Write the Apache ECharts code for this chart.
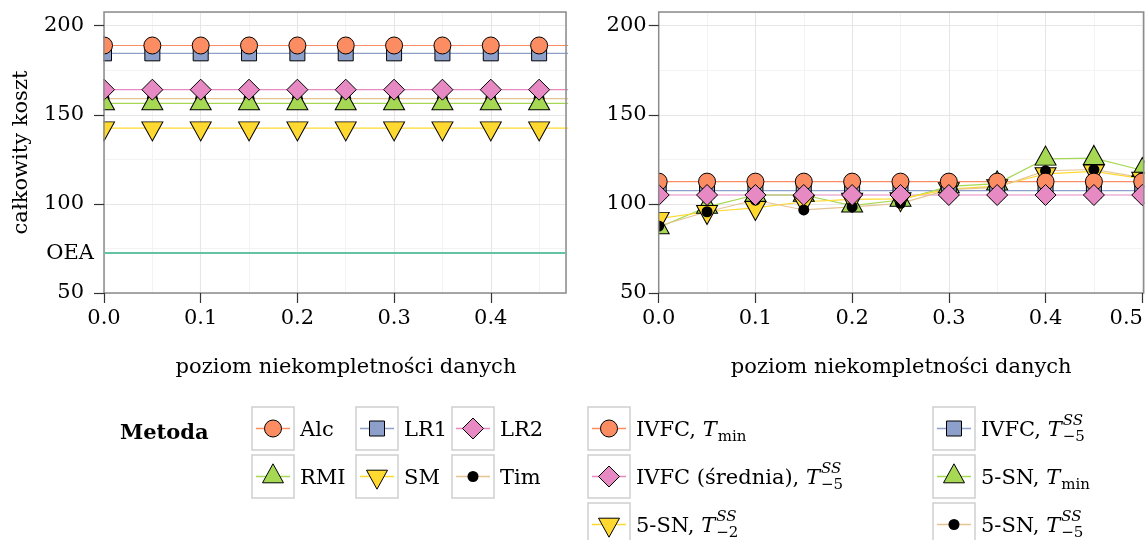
<!DOCTYPE html>
<html>
<head>
<meta charset="utf-8">
<script src="https://cdn.jsdelivr.net/npm/echarts@6/dist/echarts.min.js"></script>
<style>
  html, body { margin: 0; padding: 0; background: #ffffff; }
  #chart { width: 1145px; height: 540px; }
</style>
</head>
<body>
<div id="chart"></div>
<script>
// ---- data -------------------------------------------------------------
const levels = [0, 0.05, 0.1, 0.15, 0.2, 0.25, 0.3, 0.35, 0.4, 0.45, 0.5];

// left panel: reference methods
const costAlc = [188.9, 188.9, 188.9, 188.9, 188.9, 188.9, 188.9, 188.9, 188.9, 188.9, 188.9];
const costLR1 = [184.5, 184.5, 184.5, 184.5, 184.5, 184.5, 184.5, 184.5, 184.5, 184.5, 184.5];
const costLR2 = [164.1, 164.1, 164.1, 164.1, 164.1, 164.1, 164.1, 164.1, 164.1, 164.1, 164.1];
const costRMI = [156.4, 156.4, 156.4, 156.4, 156.4, 156.4, 156.4, 156.4, 156.4, 156.4, 156.4];
const costSM  = [142.5, 142.5, 142.5, 142.5, 142.5, 142.5, 142.5, 142.5, 142.5, 142.5, 142.5];
const costTim = [159.1, 159.1, 159.1, 159.1, 159.1, 159.1, 159.1, 159.1, 159.1, 159.1, 159.1];
const costOEA = 72.4;

// right panel: IVFC and 5-SN variants
const costIvfcMin    = [112.5, 112.5, 112.5, 112.5, 112.5, 112.5, 112.5, 112.5, 112.5, 112.5, 112.5];
const costIvfcSS5    = [107.5, 107.5, 107.5, 107.5, 107.5, 107.5, 107.5, 107.5, 107.5, 107.5, 107.5];
const costIvfcMean   = [105.0, 105.0, 105.0, 105.0, 105.0, 105.0, 105.0, 105.0, 105.0, 105.0, 105.0];
const cost5snMin     = [86.8, 98.3, 105.0, 105.0, 99.0, 102.2, 109.8, 111.4, 125.3, 125.7, 118.9];
const cost5snSS2     = [91.7, 95.6, 97.8, 101.2, 102.5, 102.8, 108.3, 110.0, 116.8, 118.3, 114.2];
const cost5snSS5     = [87.6, 95.6, 102.2, 96.6, 98.3, 100.3, 108.0, 109.3, 118.6, 119.3, 114.8];

// tick labels
const xTicksLeft  = [0, 0.1, 0.2, 0.3, 0.4];
const xTicksRight = [0, 0.1, 0.2, 0.3, 0.4, 0.5];
const yTicks      = [50, 100, 150, 200];

// ---- styling ----------------------------------------------------------
const FONT = '"DejaVu Serif", serif';
const FS = 21;
const COL = {
  orange: '#FC8D62', blue: '#8DA0CB', pink: '#E78AC3',
  green: '#A6D854', yellow: '#FFD92F', tan: '#E5C494', teal: '#66C2A5'
};
// marker looks (ggplot shapes 21-25 and 16)
const MARK = {
  circle:  { symbol: 'circle',   size: 17,       offset: [0, 0],    rotate: 0,   border: true },
  square:  { symbol: 'rect',     size: 15,       offset: [0, 0],    rotate: 0,   border: true },
  diamond: { symbol: 'diamond',  size: 21,       offset: [0, 0],    rotate: 0,   border: true },
  triUp:   { symbol: 'triangle', size: [21, 19], offset: [0, -3.2], rotate: 0,   border: true },
  triDown: { symbol: 'triangle', size: [21, 19], offset: [0, 3.2],  rotate: 180, border: true },
  dot:     { symbol: 'circle',   size: 11,       offset: [0, 0],    rotate: 0,   border: false }
};

const leftMethods = [
  { key: 'Alc', data: costAlc, line: COL.orange, fill: COL.orange, mark: 'circle',  label: [{ t: 'Alc' }] },
  { key: 'LR1', data: costLR1, line: COL.blue,   fill: COL.blue,   mark: 'square',  label: [{ t: 'LR1' }] },
  { key: 'LR2', data: costLR2, line: COL.pink,   fill: COL.pink,   mark: 'diamond', label: [{ t: 'LR2' }] },
  { key: 'RMI', data: costRMI, line: COL.green,  fill: COL.green,  mark: 'triUp',   label: [{ t: 'RMI' }] },
  { key: 'SM',  data: costSM,  line: COL.yellow, fill: COL.yellow, mark: 'triDown', label: [{ t: 'SM' }] },
  { key: 'Tim', data: costTim, line: COL.tan,    fill: '#000000',  mark: 'dot',     label: [{ t: 'Tim' }] }
];
const leftDrawOrder = ['Tim', 'SM', 'RMI', 'LR2', 'LR1', 'Alc'];

const rightMethods = [
  { key: 'ivfcMin',  data: costIvfcMin,  line: COL.orange, fill: COL.orange, mark: 'circle',
    label: [{ t: 'IVFC, ' }, { t: 'T', it: true }, { sub: 'min' }] },
  { key: 'ivfcSS5',  data: costIvfcSS5,  line: COL.blue,   fill: COL.blue,   mark: 'square',
    label: [{ t: 'IVFC, ' }, { t: 'T', it: true }, { sup: 'SS', sub: '\u22125' }] },
  { key: 'ivfcMean', data: costIvfcMean, line: COL.pink,   fill: COL.pink,   mark: 'diamond',
    label: [{ t: 'IVFC (\u015brednia), ' }, { t: 'T', it: true }, { sup: 'SS', sub: '\u22125' }] },
  { key: 'snMin',    data: cost5snMin,   line: COL.green,  fill: COL.green,  mark: 'triUp',
    label: [{ t: '5-SN, ' }, { t: 'T', it: true }, { sub: 'min' }] },
  { key: 'snSS2',    data: cost5snSS2,   line: COL.yellow, fill: COL.yellow, mark: 'triDown',
    label: [{ t: '5-SN, ' }, { t: 'T', it: true }, { sup: 'SS', sub: '\u22122' }] },
  { key: 'snSS5',    data: cost5snSS5,   line: COL.tan,    fill: '#000000',  mark: 'dot',
    label: [{ t: '5-SN, ' }, { t: 'T', it: true }, { sup: 'SS', sub: '\u22125' }] }
];
const rightDrawOrder = ['snMin', 'snSS2', 'snSS5', 'ivfcSS5', 'ivfcMin', 'ivfcMean'];

// panel geometry
const PANELS = [
  { left: 104,   top: 12, width: 462, height: 281, xMax: 0.4778, yLabelMargin: 20 },
  { left: 658.7, top: 12, width: 485, height: 281, xMax: 0.5015, yLabelMargin: 12 }
];
const Y_MIN = 50, Y_MAX = 207.7;

// ---- axes -------------------------------------------------------------
function textBase() {
  return { color: '#000', fontFamily: FONT, fontSize: FS };
}
function xLabel(edgeValue) {
  // the last label of a panel that ends at the canvas edge is pushed left
  return v => (edgeValue !== undefined && Math.abs(v - edgeValue) < 1e-9)
    ? '{edge|' + v.toFixed(1) + '}' : v.toFixed(1);
}
function gridAxes(dim, gi, cfg) {
  // per panel: minor grid lines, major grid lines, then ticks + labels on top
  const base = dim === 'x'
    ? { type: 'value', gridIndex: gi, position: 'bottom', min: 0, max: cfg.xMax }
    : { type: 'value', gridIndex: gi, position: 'left', min: Y_MIN, max: Y_MAX };
  const none = { axisLine: { show: false }, axisTick: { show: false }, axisLabel: { show: false } };
  const minor = Object.assign({}, base, none, {
    z: 0, interval: dim === 'x' ? 0.05 : 25,
    splitLine: { show: true, lineStyle: { color: '#F3F3F3', width: 1 } }
  });
  const major = Object.assign({}, base, none, {
    z: 1, interval: dim === 'x' ? 0.1 : 50,
    splitLine: { show: true, lineStyle: { color: '#E6E6E6', width: 1.1 } }
  });
  const ticks = dim === 'x' ? cfg.ticks : yTicks;
  const labelled = Object.assign({}, base, {
    z: 6, interval: dim === 'x' ? 0.1 : 50,
    axisLine: { show: false },
    splitLine: { show: false },
    axisTick: { show: true, length: 10, customValues: ticks, lineStyle: { color: '#333', width: 1.2 } },
    axisLabel: Object.assign(textBase(), {
      customValues: ticks,
      margin: dim === 'x' ? 15 : cfg.margin,
      formatter: dim === 'x' ? xLabel(cfg.edgeValue) : (v => String(v)),
      rich: { edge: Object.assign(textBase(), { padding: [0, 32, 0, 0] }) }
    })
  });
  if (cfg.name) {
    labelled.name = cfg.name;
    labelled.nameLocation = 'middle';
    labelled.nameGap = cfg.nameGap;
    labelled.nameTextStyle = Object.assign(textBase(), { padding: cfg.namePad || 0 });
  }
  return [minor, major, labelled];
}

const xAxes = []
  .concat(gridAxes('x', 0, { xMax: PANELS[0].xMax, ticks: xTicksLeft,
    name: 'poziom niekompletno\u015bci danych', nameGap: 64, namePad: [0, 0, 0, 22] }))
  .concat(gridAxes('x', 1, { xMax: PANELS[1].xMax, ticks: xTicksRight, edgeValue: 0.5,
    name: 'poziom niekompletno\u015bci danych', nameGap: 64 }));
const yAxes = []
  .concat(gridAxes('y', 0, { name: 'ca\u0142kowity koszt', nameGap: 72, margin: PANELS[0].yLabelMargin }))
  .concat(gridAxes('y', 1, { margin: PANELS[1].yLabelMargin }));

// ---- series -----------------------------------------------------------
function pairs(vals) { return levels.map((x, i) => [x, vals[i]]); }

function lineSeries(m, axisIdx) {
  return {
    type: 'line', xAxisIndex: axisIdx, yAxisIndex: axisIdx, z: 2,
    data: pairs(m.data), symbol: 'none', showSymbol: false, silent: true,
    lineStyle: { color: m.line, width: 1.2 }, clip: true
  };
}
function pointSeries(m, axisIdx) {
  const k = MARK[m.mark];
  return {
    type: 'scatter', xAxisIndex: axisIdx, yAxisIndex: axisIdx, z: 3,
    data: pairs(m.data), symbol: k.symbol, symbolSize: k.size,
    symbolOffset: k.offset, symbolRotate: k.rotate, silent: true, clip: true,
    itemStyle: { color: m.fill, borderColor: '#000', borderWidth: k.border ? 1 : 0, opacity: 1 }
  };
}
const byKey = (list, key) => list.find(m => m.key === key);

const series = [];
leftMethods.forEach(m => series.push(lineSeries(m, 2)));
series.push({
  type: 'line', xAxisIndex: 2, yAxisIndex: 2, z: 2, data: [], silent: true,
  markLine: {
    symbol: 'none', silent: true, animation: false,
    data: [{ yAxis: costOEA }],
    lineStyle: { color: COL.teal, width: 2, type: 'solid' },
    label: Object.assign(textBase(), { show: true, position: 'start', distance: 10, formatter: 'OEA' })
  }
});
leftDrawOrder.forEach(k => series.push(pointSeries(byKey(leftMethods, k), 2)));
rightMethods.forEach(m => series.push(lineSeries(m, 5)));
rightDrawOrder.forEach(k => series.push(pointSeries(byKey(rightMethods, k), 5)));

// ---- legend (drawn as graphic) ------------------------------------------
const measureCtx = document.createElement('canvas').getContext('2d');
function textW(str, size, style, weight) {
  measureCtx.font = `${style || 'normal'} ${weight || 'normal'} ${size}px ${FONT}`;
  return measureCtx.measureText(str).width;
}
function textEl(str, x, y, size, style, weight, align) {
  return {
    type: 'text', x, y, z: 10, silent: true,
    style: {
      text: str, fill: '#000', fontFamily: FONT, fontSize: size,
      fontStyle: style || 'normal', fontWeight: weight || 'normal',
      align: align || 'left', verticalAlign: 'middle'
    }
  };
}
function keyMarker(mark, fill, cx, cy) {
  const st = { fill, stroke: '#000', lineWidth: 1 };
  switch (mark) {
    case 'circle':  return { type: 'circle', shape: { cx, cy, r: 8.5 }, style: st };
    case 'square':  return { type: 'rect', shape: { x: cx - 7.5, y: cy - 7.5, width: 15, height: 15 }, style: st };
    case 'diamond': return { type: 'polygon', shape: { points: [[cx, cy - 10.5], [cx + 10.5, cy], [cx, cy + 10.5], [cx - 10.5, cy]] }, style: st };
    case 'triUp':   return { type: 'polygon', shape: { points: [[cx, cy - 12.7], [cx + 10.5, cy + 6.3], [cx - 10.5, cy + 6.3]] }, style: st };
    case 'triDown': return { type: 'polygon', shape: { points: [[cx, cy + 12.7], [cx + 10.5, cy - 6.3], [cx - 10.5, cy - 6.3]] }, style: st };
    default:        return { type: 'circle', shape: { cx, cy, r: 5.5 }, style: { fill: '#000' } };
  }
}
function legendEntry(m, bx, by) {
  const els = [];
  const bw = 42, bh = 43, cx = bx + bw / 2, cy = by + bh / 2;
  els.push({ type: 'rect', z: 10, silent: true, shape: { x: bx, y: by, width: bw, height: bh },
    style: { fill: '#ffffff', stroke: '#CFCFCF', lineWidth: 1.5 } });
  els.push({ type: 'line', z: 10, silent: true, shape: { x1: bx + 4, y1: cy, x2: bx + bw - 4, y2: cy },
    style: { stroke: m.line, lineWidth: 1.5 } });
  const mk = keyMarker(m.mark, m.fill, cx, cy);
  mk.z = 11; mk.silent = true;
  els.push(mk);
  let x = bx + bw + 6;
  const ty = cy + 2;
  m.label.forEach(p => {
    if (p.t) {
      const style = p.it ? 'italic' : 'normal';
      els.push(textEl(p.t, x, ty, FS, style));
      x += textW(p.t, FS, style);
    } else {
      let w = 0;
      if (p.sup) {
        els.push(textEl(p.sup, x + 1, ty - 9, 15, 'italic'));
        w = Math.max(w, textW(p.sup, 15, 'italic') + 1);
      }
      if (p.sub) {
        els.push(textEl(p.sub, x + 1, ty + 7, 15, 'normal'));
        w = Math.max(w, textW(p.sub, 15, 'normal') + 1);
      }
      x += w;
    }
  });
  return els;
}

const graphicEls = [];
// masks keep markers on the panel edges clipped to the panel
graphicEls.push({ type: 'rect', z: 4, silent: true, shape: { x: 90, y: 0, width: 13.25, height: 235 }, style: { fill: '#fff' } });
graphicEls.push({ type: 'rect', z: 4, silent: true, shape: { x: 646, y: 0, width: 11.95, height: 300 }, style: { fill: '#fff' } });
graphicEls.push({ type: 'rect', z: 4, silent: true, shape: { x: 1144.45, y: 0, width: 3, height: 300 }, style: { fill: '#fff' } });
// panel frames
PANELS.forEach(p => graphicEls.push({
  type: 'rect', z: 5, silent: true,
  shape: { x: p.left, y: p.top, width: p.width, height: p.height },
  style: { fill: 'none', stroke: '#8C8C8C', lineWidth: 1.5 }
}));

graphicEls.push(textEl('Metoda', 120, 434, FS, 'normal', 'bold'));
const leftCols = [252, 356, 452], rightCols = [588, 933], rows = [407, 455, 503];
leftMethods.forEach((m, i) => legendEntry(m, leftCols[i % 3], rows[Math.floor(i / 3)]).forEach(e => graphicEls.push(e)));
rightMethods.forEach((m, i) => legendEntry(m, rightCols[i % 2], rows[Math.floor(i / 2)]).forEach(e => graphicEls.push(e)));

// ---- chart ------------------------------------------------------------
const chart = echarts.init(document.getElementById('chart'), null, { renderer: 'canvas' });
chart.setOption({
  backgroundColor: '#ffffff',
  animation: false,
  grid: PANELS.map(p => ({ left: p.left, top: p.top, width: p.width, height: p.height,
    containLabel: false, outerBoundsMode: 'none', show: false })),
  xAxis: xAxes,
  yAxis: yAxes,
  series,
  graphic: { elements: graphicEls }
});
</script>
</body>
</html>
